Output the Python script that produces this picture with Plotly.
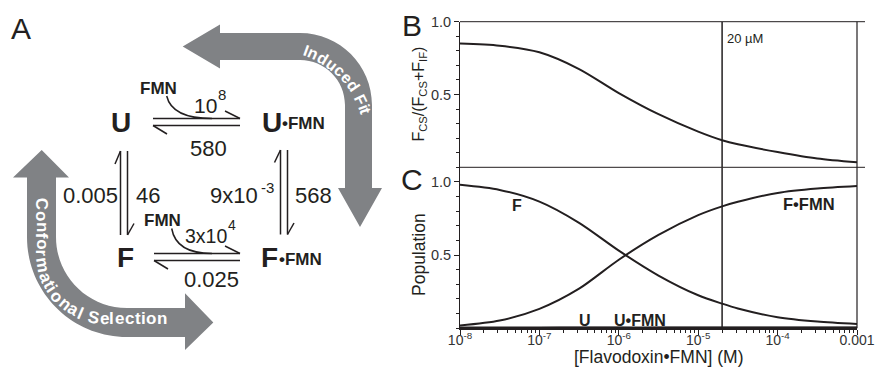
import math
import plotly.graph_objects as go

W, H = 875, 368
FONT = "Liberation Sans, Arial, sans-serif"
INK = "#231f20"
GREY = "rgb(128,130,133)"

# ---------------- data ----------------
conc = [1e-8, 3.16e-8, 1e-7, 3.16e-7, 1e-6, 3.16e-6, 1e-5, 2e-5, 3.16e-5, 1e-4, 3.16e-4, 1e-3]
frac_cs = [0.85, 0.835, 0.79, 0.675, 0.51, 0.365, 0.245, 0.186, 0.158, 0.105, 0.06, 0.034]
pop_F = [0.98, 0.945, 0.865, 0.72, 0.53, 0.36, 0.225, 0.168, 0.135, 0.075, 0.045, 0.028]
pop_FFMN = [0.018, 0.052, 0.132, 0.27, 0.468, 0.638, 0.773, 0.833, 0.864, 0.925, 0.955, 0.972]
pop_U = [0.004, 0.004, 0.004, 0.004, 0.004, 0.003, 0.003, 0.003, 0.003, 0.003, 0.003, 0.003]
pop_UFMN = [0.002, 0.002, 0.002, 0.003, 0.003, 0.004, 0.004, 0.004, 0.004, 0.004, 0.004, 0.004]
marker_conc = 2e-5
marker_label = "20 µM"
x_tick_vals = [1e-8, 1e-7, 1e-6, 1e-5, 1e-4, 1e-3]
x_tick_text = ["10<sup>-8</sup>", "10<sup>-7</sup>", "10<sup>-6</sup>", "10<sup>-5</sup>", "10<sup>-4</sup>", "0.001"]
y_tick_vals = [0.5, 1.0]
y_tick_text = ["0.5", "1.0"]


def px(x):
    return x / W


def py(y):
    return 1 - y / H


# plot area in pixels
PL, PR = 460, 857
B_TOP, MID, C_BOT = 21.7, 167.3, 328.2

fig = go.Figure()
line_style = dict(color=INK, width=2, shape="spline", smoothing=0.8)
fig.add_trace(go.Scatter(x=conc, y=frac_cs, mode="lines", line=line_style, xaxis="x", yaxis="y", hoverinfo="skip"))
fig.add_trace(go.Scatter(x=[marker_conc, marker_conc], y=[0, 1], mode="lines", line=dict(color=INK, width=1.5), xaxis="x", yaxis="y"))
for ys in (pop_F, pop_FFMN, pop_U, pop_UFMN):
    fig.add_trace(go.Scatter(x=conc, y=ys, mode="lines", line=line_style, xaxis="x2", yaxis="y2", hoverinfo="skip"))
fig.add_trace(go.Scatter(x=[marker_conc, marker_conc], y=[0, 1.1], mode="lines", line=dict(color=INK, width=1.5), xaxis="x2", yaxis="y2"))

tickfont = dict(family=FONT, size=14.5, color="#333")
yax = dict(range=[0, 1], showline=True, linecolor=INK, linewidth=1, ticks="outside", ticklen=5,
           tickcolor=INK, tickvals=y_tick_vals, ticktext=y_tick_text, tickfont=tickfont,
           showgrid=False, zeroline=False, fixedrange=True, automargin=False,
           minor=dict(dtick=0.1, tick0=0, ticks="outside", ticklen=3, tickcolor=INK, showgrid=False))

fig.update_layout(
    width=W, height=H, autosize=False, margin=dict(l=0, r=0, t=0, b=0, pad=0, autoexpand=False),
    paper_bgcolor="white", plot_bgcolor="white", showlegend=False,
    font=dict(family=FONT, color=INK),
    xaxis=dict(domain=[px(PL), px(PR)], type="log", range=[-8, -3], anchor="y", automargin=False,
               showticklabels=False, ticks="", showline=False, showgrid=False, zeroline=False),
    yaxis=dict(domain=[py(MID), py(B_TOP)], anchor="x", **yax),
    xaxis2=dict(domain=[px(PL), px(PR)], type="log", range=[-8, -3], anchor="y2", automargin=False,
                showline=True, linecolor=INK, linewidth=1.5, ticks="outside", ticklen=5, tickcolor=INK,
                tickmode="array", tickvals=x_tick_vals, ticktext=x_tick_text,
                tickfont=dict(family=FONT, size=14, color="#333"),
                ticklabelstandoff=-7,
                showgrid=False, zeroline=False,
                minor=dict(dtick="D1", ticks="outside", ticklen=3, tickcolor=INK, showgrid=False)),
    yaxis2=dict(domain=[py(C_BOT), py(MID)], anchor="x2", **{**yax, "range": [0, 1.1]}),
)

shapes = []


def seg(x0, y0, x1, y1, w=1.5, color=INK):
    shapes.append(dict(type="line", xref="paper", yref="paper", x0=px(x0), y0=py(y0), x1=px(x1), y1=py(y1),
                       line=dict(color=color, width=w)))


def path(d, fill=None, w=1.5, color=INK):
    out = []
    for tok in d:
        if isinstance(tok, str):
            out.append(tok)
        else:
            out.append(f"{px(tok[0]):.5f},{py(tok[1]):.5f}")
    s = dict(type="path", xref="paper", yref="paper", path=" ".join(out))
    if fill:
        s.update(fillcolor=fill, line=dict(width=0))
    else:
        s.update(line=dict(color=color, width=w))
    shapes.append(s)


# plot frame
seg(PL, B_TOP, 865, B_TOP, 1, INK)
seg(PL, MID, 865, MID, 1, INK)
seg(PR, B_TOP, PR, C_BOT, 1.2, INK)

# ---------------- scheme (panel A) ----------------
K = 0.5523
# Induced fit arrow
cx, cy, Ro, Ri = 300, 105, 72, 45
path(["M", (182.7, 46.5), "L", (220, 24.5), "L", (220, cy - Ro), "L", (cx, cy - Ro),
      "C", (cx + K * Ro, cy - Ro), (cx + Ro, cy - K * Ro), (cx + Ro, cy),
      "L", (cx + Ro, 188), "L", (382, 188), "L", (360, 227), "L", (338, 188), "L", (cx + Ri, 188),
      "L", (cx + Ri, cy), "C", (cx + Ri, cy - K * Ri), (cx + K * Ri, cy - Ri), (cx, cy - Ri),
      "L", (220, cy - Ri), "L", (220, 68.5), "Z"], fill=GREY)
# Conformational selection arrow
cx, cy, Ro, Ri = 127, 237, 100, 71
path(["M", (41.7, 150), "L", (69, 177.5), "L", (cx - Ri, 177.5), "L", (cx - Ri, cy),
      "C", (cx - Ri, cy + K * Ri), (cx - K * Ri, cy + Ri), (cx, cy + Ri),
      "L", (185, cy + Ri), "L", (185, 293.3), "L", (213.3, 322.5), "L", (185, 350), "L", (185, cy + Ro),
      "L", (cx, cy + Ro), "C", (cx - K * Ro, cy + Ro), (cx - Ro, cy + K * Ro), (cx - Ro, cy),
      "L", (cx - Ro, 177.5), "L", (13, 177.5), "Z"], fill=GREY)

# equilibrium harpoons
seg(153, 118.5, 240, 118.5); seg(240, 118.5, 225, 111)
seg(153, 125.5, 240, 125.5); seg(153, 125.5, 167, 134)
path(["M", (166.7, 96), "Q", (172, 118.5), (212, 118.5)])
seg(154, 253.5, 240, 253.5); seg(240, 253.5, 225, 246)
seg(154, 260.5, 240, 260.5); seg(154, 260.5, 168, 269)
path(["M", (171.7, 228.5), "Q", (176, 253.5), (212, 253.5)])
seg(120.5, 151, 120.5, 235); seg(120.5, 151, 115, 164)
seg(127.5, 151, 127.5, 235); seg(127.5, 235, 134, 223.5)
seg(280.5, 150, 280.5, 234.5); seg(280.5, 150, 274.5, 162.5)
seg(287.5, 150, 287.5, 234.5); seg(287.5, 234.5, 294, 223)

fig.update_layout(shapes=shapes)

anns = []


def ann(text, x, y, size, bold=False, color=INK, xanchor="center", angle=0):
    if bold:
        text = f"<b>{text}</b>"
    anns.append(dict(text=text, x=px(x), y=py(y), xref="paper", yref="paper", showarrow=False,
                     xanchor=xanchor, yanchor="middle", textangle=angle,
                     font=dict(family=FONT, size=size, color=color)))


# species
ann("U", 121, 122, 28, True)
ann("U", 271.7, 122, 28, True)
ann("•FMN", 303, 124, 17, True)
ann("F", 126, 257, 28, True)
ann("F", 269, 257, 28, True)
ann("•FMN", 300, 259.5, 17, True)
ann("FMN", 158.5, 88.5, 17, True)
ann("FMN", 162, 220.5, 17, True)
# rate constants
ann("10", 205, 105, 21)
ann("8", 221.7, 94, 15)
ann("580", 208.3, 148.5, 22)
ann("0.005", 90, 195.5, 22)
ann("46", 148, 195, 22)
ann("9x10", 234, 195.5, 22)
ann("-3", 267.5, 187, 15)
ann("568", 313, 195, 22)
ann("3x10", 206, 236, 19.5)
ann("4", 231.7, 224.5, 14)
ann("0.025", 211, 279.5, 22)

# text along the grey arrows
WID = {"I": .278, "n": .611, "d": .611, "u": .611, "c": .556, "e": .556, " ": .278, "F": .611, "i": .278,
       "t": .333, "C": .722, "o": .611, "f": .333, "r": .389, "m": .889, "a": .556, "l": .278, "S": .667}

# Induced Fit: arc
txt, fs = "Induced Fit", 16
tc_x, tc_y, tr = 274, 141, 96
th0, th1 = math.radians(18), math.radians(74)
L = sum(WID[c] for c in txt) * fs
scale = (th1 - th0) * tr / L
cum = 0
for ch in txt:
    w = WID[ch] * fs
    s = (cum + w / 2) * scale
    th = th0 + s / tr
    cum += w
    if ch != " ":
        ann(ch, tc_x + tr * math.sin(th), tc_y - tr * math.cos(th), fs, True, "white", angle=math.degrees(th))

# Conformational Selection: vertical, arc, horizontal
txt, fs = "Conformational Selection", 17
vx, vy0 = 41.7, 197
acx, acy = 105, 255
ar = acx - vx
hx1 = 168
seg1 = acy - vy0
arcl = math.pi / 2 * ar
tot = seg1 + arcl + (hx1 - acx)
L = sum(WID[c] for c in txt) * fs
scale = tot / L
cum = 0
for ch in txt:
    w = WID[ch] * fs
    s = (cum + w / 2) * scale
    cum += w
    if s < seg1:
        x, y, a = vx, vy0 + s, 90
    elif s < seg1 + arcl:
        phi = (s - seg1) / ar
        x, y, a = acx - ar * math.cos(phi), acy + ar * math.sin(phi), 90 - math.degrees(phi)
    else:
        x, y, a = acx + (s - seg1 - arcl), acy + ar, 0
    if ch != " ":
        ann(ch, x, y, fs, True, "white", angle=a)

# panel letters and plot text
ann("A", 21, 28, 30)
ann("B", 412, 25, 30)
ann("C", 412, 180, 30)
ann("F<sub>CS</sub>/(F<sub>CS</sub>+F<sub>IF</sub>)", 419, 94.5, 16, angle=-90)
ann("Population", 419, 255, 17.5, angle=-90)
ann("[Flavodoxin•FMN] (M)", 658, 357, 17.5)
ann(marker_label, 725, 38, 13, xanchor="left")
ann("F", 516.7, 205, 16, True)
ann("F•FMN", 809, 204, 16.5, True)
ann("U", 585, 320, 16, True)
ann("U•FMN", 640, 320, 16, True)

fig.update_layout(annotations=anns)
fig.write_html("out.html", config={"displayModeBar": False},
               post_script="document.body.style.margin='0';document.body.style.overflow='hidden';")
